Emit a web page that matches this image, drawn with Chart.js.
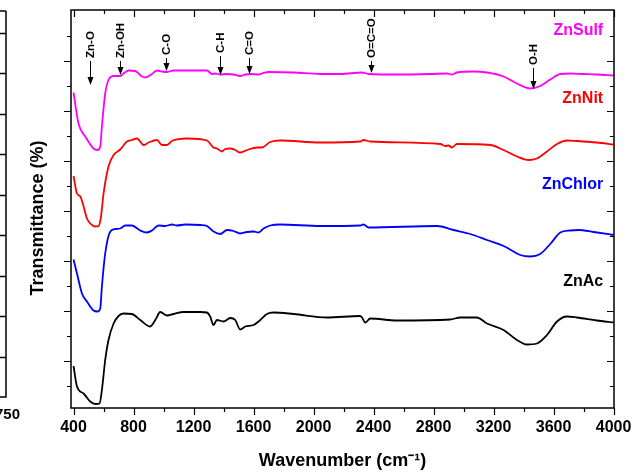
<!DOCTYPE html>
<html>
<head>
<meta charset="utf-8">
<script src="https://cdn.jsdelivr.net/npm/chart.js@4.4.1/dist/chart.umd.min.js"></script>
<style>
  html, body { margin: 0; padding: 0; background: #fff; }
  #wrap { width: 642px; height: 473px; }
</style>
</head>
<body>
<div id="wrap"><canvas id="ftirChart" width="642" height="473"></canvas></div>
<script>
const FONT = '"Liberation Sans", Arial, sans-serif';

// x axis tick labels (cm-1)
const xTickLabels = [400, 800, 1200, 1600, 2000, 2400, 2800, 3200, 3600, 4000];

// ZnSulf (magenta)
const sulfWn = [400, 433, 478, 533, 560, 578, 589, 611, 633, 667, 711, 733, 767, 811, 856, 878, 923, 956, 989, 1023, 1067, 1245, 1289, 1323, 1345, 1378, 1423, 1467, 1511, 1545, 1589, 1633, 1656, 1700, 1867, 2045, 2178, 2323, 2367, 2556, 2778, 2889, 2923, 2956, 3067, 3156, 3267, 3356, 3445, 3511, 3578, 3645, 3711, 3800, 3889, 4000];
const sulfT  = [63.7, 57.5, 54.9, 52.5, 52.2, 52.9, 56.9, 63.5, 66.2, 67.0, 67.0, 67.5, 68.1, 68.0, 66.9, 66.7, 67.4, 68.1, 67.9, 67.8, 68.1, 68.1, 68.1, 67.4, 67.5, 67.3, 67.4, 67.3, 67.0, 67.3, 67.4, 67.3, 67.5, 67.8, 67.7, 67.4, 67.4, 67.7, 67.4, 67.3, 67.4, 67.5, 67.3, 67.7, 67.9, 67.7, 66.9, 65.5, 64.5, 65.0, 66.3, 67.4, 67.5, 67.4, 67.3, 67.1];

// ZnNit (red)
const nitWn = [400, 423, 445, 467, 489, 523, 545, 567, 583, 600, 633, 667, 711, 756, 789, 823, 867, 900, 956, 989, 1023, 1056, 1156, 1289, 1333, 1356, 1389, 1411, 1445, 1478, 1511, 1556, 1623, 1656, 1711, 1778, 2045, 2311, 2333, 2378, 2845, 2878, 2900, 2923, 2956, 3178, 3267, 3356, 3433, 3489, 3556, 3623, 3689, 3756, 3889, 4000];
const nitT  = [47.0, 43.5, 42.9, 40.9, 38.5, 37.2, 36.9, 37.0, 38.9, 43.5, 48.9, 51.2, 52.3, 53.9, 54.2, 54.5, 53.2, 53.7, 54.2, 53.2, 53.2, 54.0, 54.5, 54.1, 52.7, 52.5, 51.9, 52.4, 52.5, 52.2, 51.7, 52.2, 52.7, 52.7, 53.8, 54.1, 53.7, 53.9, 54.2, 53.9, 53.4, 53.0, 53.1, 52.7, 53.4, 53.2, 52.2, 50.9, 50.2, 50.5, 51.9, 53.4, 54.1, 54.0, 53.7, 53.3];

// ZnChlor (blue)
const chlorWn = [400, 423, 456, 489, 533, 560, 578, 589, 611, 645, 678, 711, 745, 789, 845, 889, 923, 967, 1011, 1056, 1089, 1145, 1245, 1289, 1333, 1378, 1423, 1467, 1511, 1556, 1600, 1633, 1667, 1711, 1778, 2045, 2311, 2333, 2367, 2823, 2933, 3045, 3156, 3267, 3378, 3445, 3511, 3578, 3645, 3711, 3767, 3867, 4000];
const chlorT  = [30.3, 27.5, 23.5, 21.9, 20.1, 19.9, 20.5, 24.9, 31.5, 35.9, 36.4, 36.5, 37.1, 37.1, 36.1, 35.7, 36.1, 37.1, 37.0, 37.3, 37.1, 37.3, 37.2, 37.0, 35.9, 35.4, 36.2, 36.0, 35.5, 35.8, 35.9, 35.7, 36.5, 37.1, 37.3, 37.0, 37.1, 37.3, 36.7, 37.0, 36.2, 35.4, 34.2, 33.0, 31.2, 30.9, 31.4, 33.4, 35.7, 36.1, 36.2, 35.8, 35.2];

// ZnAc (black)
const acWn = [400, 423, 467, 511, 545, 573, 589, 611, 633, 667, 700, 733, 789, 845, 911, 945, 978, 1023, 1067, 1133, 1245, 1289, 1311, 1333, 1356, 1400, 1445, 1478, 1511, 1545, 1600, 1645, 1689, 1733, 1867, 2089, 2311, 2323, 2345, 2378, 2556, 2911, 2978, 3089, 3156, 3267, 3356, 3423, 3489, 3556, 3623, 3689, 3756, 3889, 4000];
const acT  = [9.0, 4.9, 3.5, 1.9, 1.4, 1.5, 4.2, 10.2, 14.2, 17.5, 19.0, 19.5, 19.4, 18.2, 16.9, 18.2, 19.8, 19.1, 19.4, 19.8, 19.8, 19.7, 18.9, 17.2, 18.2, 17.9, 18.6, 18.2, 16.3, 16.9, 17.2, 18.2, 19.4, 19.7, 19.4, 18.7, 19.0, 18.7, 17.7, 18.5, 18.1, 18.3, 18.7, 18.7, 17.5, 16.2, 14.2, 13.3, 13.5, 15.2, 17.9, 18.9, 18.7, 18.1, 17.7];

// series names and where their labels sit (transmittance units)
const seriesNames = ['ZnSulf', 'ZnNit', 'ZnChlor', 'ZnAc'];
const seriesColors = ['#ff00ff', '#ff0000', '#0000ff', '#000000'];
const seriesLabelT = [76.1, 62.5, 45.2, 25.9];

// band assignments: label, wavenumber, arrow tip, text bottom
const bandLabels = ['Zn-O', 'Zn-OH', 'C-O', 'C-H', 'C=O', 'O=C=O', 'O-H'];
const bandWn     = [511, 707, 1018, 1375, 1571, 2383, 3460];
const bandTip    = [65.2, 67.2, 68.0, 67.2, 67.4, 67.6, 64.4];
const bandText   = [70.6, 70.6, 71.2, 71.6, 71.2, 70.6, 69.2];

function toPoints(xs, ys) {
    return xs.map((x, i) => ({ x: x, y: ys[i] }));
}

const seriesData = [
    toPoints(sulfWn, sulfT),
    toPoints(nitWn, nitT),
    toPoints(chlorWn, chlorT),
    toPoints(acWn, acT)
];

const decorPlugin = {
    id: 'decor',
    afterDraw(chart) {
        const c = chart.ctx;
        const area = chart.chartArea;
        const xs = chart.scales.x;
        const ys = chart.scales.y;
        c.save();
        c.strokeStyle = '#000';
        c.fillStyle = '#000';

        // frame
        c.lineWidth = 1.5;
        c.strokeRect(area.left, area.top, area.right - area.left, area.bottom - area.top);

        // x ticks: bottom outward, top inward
        c.lineWidth = 1.2;
        c.beginPath();
        for (let wn = 400; wn <= 4000; wn += 200) {
            const px = Math.round(xs.getPixelForValue(wn)) + 0.5;
            const len = wn % 400 === 0 ? 7 : 4;
            c.moveTo(px, area.bottom);
            c.lineTo(px, area.bottom + len);
            c.moveTo(px, area.top);
            c.lineTo(px, area.top + len);
        }
        // y ticks: left outward, right inward
        for (let v = 5; v < 80; v += 5) {
            const py = Math.round(ys.getPixelForValue(v)) + 0.5;
            const len = v % 10 === 0 ? 7 : 4;
            c.moveTo(area.left - len, py);
            c.lineTo(area.left, py);
            c.moveTo(area.right - len, py);
            c.lineTo(area.right, py);
        }
        c.stroke();

        // axis titles
        c.font = 'bold 18px ' + FONT;
        c.textAlign = 'center';
        c.textBaseline = 'middle';
        c.fillText('Wavenumber (cm\u207B\u00B9)', (area.left + area.right) / 2, 461);
        c.save();
        c.translate(38, 218);
        c.rotate(-Math.PI / 2);
        c.fillText('Transmittance (%)', 0, 0);
        c.restore();

        // series labels
        c.font = 'bold 16px ' + FONT;
        c.textAlign = 'right';
        seriesNames.forEach((name, i) => {
            c.fillStyle = seriesColors[i];
            c.fillText(name, xs.getPixelForValue(3931), ys.getPixelForValue(seriesLabelT[i]));
        });

        // band markers
        c.fillStyle = '#000';
        c.lineWidth = 1;
        c.font = 'bold 11.5px ' + FONT;
        bandLabels.forEach((lab, i) => {
            const px = Math.round(xs.getPixelForValue(bandWn[i])) + 0.5;
            const tipY = ys.getPixelForValue(bandTip[i]);
            const textY = ys.getPixelForValue(bandText[i]);
            c.save();
            c.translate(px, textY);
            c.rotate(-Math.PI / 2);
            c.textAlign = 'left';
            c.textBaseline = 'middle';
            c.fillText(lab, 0, 0);
            c.restore();
            c.beginPath();
            c.moveTo(px, textY + 3);
            c.lineTo(px, tipY - 6);
            c.stroke();
            c.beginPath();
            c.moveTo(px - 3, tipY - 8);
            c.lineTo(px + 3, tipY - 8);
            c.lineTo(px, tipY);
            c.closePath();
            c.fill();
        });

        // edge of the neighbouring panel, cut off at the left
        c.lineWidth = 1.5;
        c.beginPath();
        c.moveTo(6, 11);
        c.lineTo(6, 397);
        c.lineTo(0, 397);
        c.moveTo(0, 11);
        c.lineTo(6, 11);
        for (let py = 397 - 40.5; py > 20; py -= 40.5) {
            c.moveTo(0, Math.round(py) + 0.5);
            c.lineTo(6, Math.round(py) + 0.5);
        }
        c.stroke();
        c.font = 'bold 15px ' + FONT;
        c.textAlign = 'right';
        c.textBaseline = 'middle';
        c.fillText('750', 20, 415);

        c.restore();
    }
};

const ctx = document.getElementById('ftirChart').getContext('2d');
new Chart(ctx, {
    type: 'line',
    data: {
        datasets: seriesData.map((pts, i) => ({
            label: seriesNames[i],
            data: pts,
            borderColor: seriesColors[i],
            borderWidth: 1.8,
            pointRadius: 0,
            fill: false,
            cubicInterpolationMode: 'monotone'
        }))
    },
    options: {
        responsive: false,
        animation: false,
        devicePixelRatio: 1,
        layout: { padding: { left: 0, top: 10, right: 28, bottom: 0 } },
        plugins: {
            legend: { display: false },
            tooltip: { enabled: false }
        },
        scales: {
            x: {
                type: 'linear',
                min: 383,
                max: 4003,
                grid: { display: false, drawTicks: false },
                border: { display: false },
                afterBuildTicks: scale => {
                    scale.ticks = xTickLabels.map(v => ({ value: v }));
                },
                ticks: {
                    color: '#000',
                    font: { family: FONT, size: 16, weight: 'bold' },
                    padding: 10,
                    maxRotation: 0,
                    autoSkip: false,
                    callback: v => String(v)
                },
                afterFit: scale => { scale.height = 65; }
            },
            y: {
                type: 'linear',
                min: 0.6,
                max: 80.2,
                grid: { display: false, drawTicks: false },
                border: { display: false },
                ticks: { display: false },
                afterFit: scale => { scale.width = 71; }
            }
        }
    },
    plugins: [decorPlugin]
});
</script>
</body>
</html>
